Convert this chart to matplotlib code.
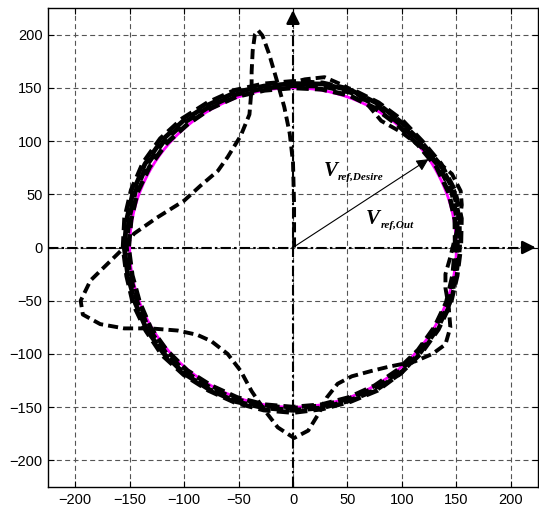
import matplotlib
matplotlib.use("Agg")
import matplotlib.pyplot as plt
import numpy as np
from matplotlib.patches import Circle

matplotlib.rcParams.update({"font.family": "Liberation Sans", "font.size": 10.5})

# reference voltage circle
ref_radius = 150

# start-up transient of the output vector
trans_x = [1, 1, 0, -3, -8, -14, -22, -28, -32, -35, -37, -38, -38, -40, -48, -60,
           -69, -85, -100, -125, -146, -155, -171, -186, -195, -193, -177, -155, -131,
           -106, -88, -75, -60, -48, -38, -26, -14, 1, 14, 23, 31, 41, 54, 72, 88,
           112, 128, 140, 144.5, 143, 140, 140, 144.5, 148, 153, 155, 154, 146, 128,
           118, 100, 81, 63, 47, 29, 11, -5]
trans_y = [0, 40, 80, 107, 132, 154, 182, 199, 204, 200, 185, 165, 150, 125, 105, 85,
           72, 58, 44, 28, 13, 0, -16, -31, -50, -63, -72, -76, -76,
           -78, -82, -88, -100, -116, -135, -153, -169, -179, -172, -157, -141, -128, -121, -116, -112,
           -107, -100, -91, -75, -56, -38, -25, -9, 6, 25, 40, 53, 69, 85,
           94, 108, 119, 141, 152, 160, 158, 154]

# steady-state loops: radius every 10 degrees
band_theta = list(range(0, 370, 10))
band_r1 = [149, 151, 152, 152, 150, 150, 151, 152, 151, 150, 150, 151, 151, 151, 152, 152,
           152, 151, 151, 150, 150, 151, 151, 151, 150, 150, 150, 150, 150, 150, 150, 150,
           150, 150, 150, 149, 149]
band_r2 = [151, 153, 155, 154, 152, 152, 154, 155, 154, 152, 152, 153, 153, 154, 155, 155,
           154, 153, 153, 152, 152, 153, 153, 153, 152, 152, 151, 151, 151, 151, 152, 152,
           151, 151, 151, 151, 151]
band_r3 = [153, 155, 157, 156, 154, 154, 156, 157, 156, 154, 154, 155, 155, 156, 157, 157,
           156, 155, 155, 154, 154, 155, 155, 155, 154, 154, 153, 153, 153, 153, 154, 154,
           153, 153, 153, 152, 153]
band_r4 = [154, 157, 158, 157, 155, 156, 157, 158, 157, 156, 156, 157, 157, 158, 159, 159,
           158, 157, 156, 155, 156, 156, 157, 156, 155, 155, 155, 155, 154, 154, 155, 154,
           154, 154, 154, 153, 154]

tip_x, tip_y = 124.5, 83
ticks = [-200, -150, -100, -50, 0, 50, 100, 150, 200]

fig = plt.figure(figsize=(5.39, 5.11), dpi=100)
ax = fig.add_axes([48 / 539, 24 / 511, 490 / 539, 479 / 511])

ax.set_xlim(-225, 225)
ax.set_ylim(-225, 225)
ax.set_xticks(ticks)
ax.set_yticks(ticks)
ax.grid(True, color="#555555", linestyle=(0, (4.5, 3)), lw=0.8)
ax.set_axisbelow(True)
ax.tick_params(direction="in", top=True, right=True, length=4, pad=4)
for s in ax.spines.values():
    s.set_linewidth(1.0)

# coordinate axes with arrows
ax.plot([-225, 218], [0, 0], color="k", lw=1.5, linestyle=(0, (5, 1.5, 1.2, 1.5)), zorder=3)
ax.plot([0, 0], [-225, 218], color="k", lw=1.5, linestyle=(0, (5, 1.5, 1.2, 1.5)), zorder=3)
ax.annotate("", xy=(223, 0), xytext=(210, 0),
            arrowprops=dict(arrowstyle="-|>,head_length=0.6,head_width=0.3", lw=1.8,
                            color="k", mutation_scale=13, shrinkA=0, shrinkB=0), zorder=4)
ax.annotate("", xy=(0, 223), xytext=(0, 210),
            arrowprops=dict(arrowstyle="-|>,head_length=0.6,head_width=0.3", lw=1.8,
                            color="k", mutation_scale=13, shrinkA=0, shrinkB=0), zorder=4)

ax.add_patch(Circle((0, 0), ref_radius, fill=False, color="#FF00FF", lw=2, zorder=4))

dash = (0, (2.6, 1.3))
th = np.deg2rad(band_theta)
for k, rr in enumerate([band_r1, band_r2, band_r3, band_r4]):
    rr = np.array(rr)
    ax.plot(rr * np.cos(th), rr * np.sin(th), color="k", lw=3.4,
            linestyle=(k * 1.0, (2.6, 1.3)), zorder=5)
ax.plot(trans_x, trans_y, color="k", lw=2.8, linestyle=dash, zorder=5)

ax.annotate("", xy=(tip_x, tip_y), xytext=(0, 0),
            arrowprops=dict(arrowstyle="-|>", lw=0.8, color="k", mutation_scale=18,
                            shrinkA=0, shrinkB=0), zorder=6)

tf = dict(family="Liberation Serif", fontweight="bold", style="italic", ha="left",
          va="baseline", zorder=7)
ax.text(28, 67, "V", fontsize=15, **tf)
ax.text(41, 63.5, "ref,Desire", fontsize=8, **tf)
ax.text(67, 22, "V", fontsize=15, **tf)
ax.text(81, 18.5, "ref,Out", fontsize=8, **tf)

plt.savefig("out.png", dpi=100)
plt.close()
